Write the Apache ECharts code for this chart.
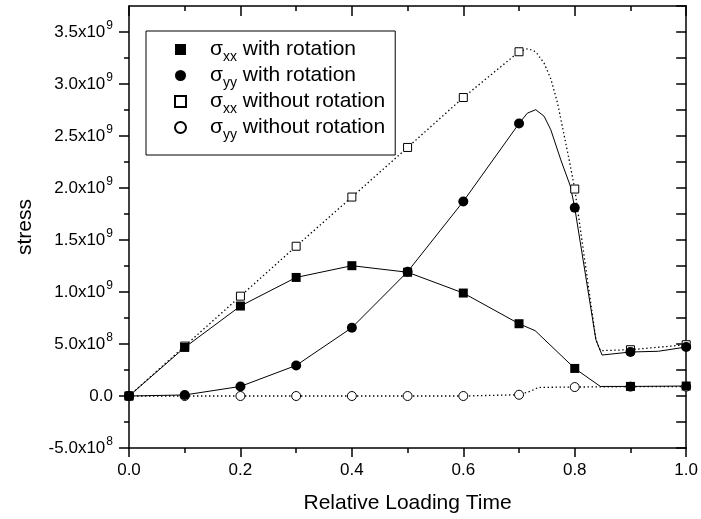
<!DOCTYPE html>
<html>
<head>
<meta charset="utf-8">
<script src="https://cdn.jsdelivr.net/npm/echarts@6/dist/echarts.min.js"></script>
<style>
html,body{margin:0;padding:0;background:#fff;}
#chart{width:701px;height:519px;}
</style>
</head>
<body>
<div id="chart"></div>
<script>
// ---- data ----
const loadTimes = [0, 0.1, 0.2, 0.3, 0.4, 0.5, 0.6, 0.7, 0.8, 0.9, 1.0];
const sxxWithRot = [0, 4.67e8, 8.65e8, 1.14e9, 1.253e9, 1.19e9, 0.99e9, 0.695e9, 0.265e9, 0.092e9, 0.096e9];
const syyWithRot = [0, 1.0e7, 9.2e7, 2.94e8, 6.57e8, 1.195e9, 1.871e9, 2.62e9, 1.81e9, 4.23e8, 4.71e8];
const sxxNoRot   = [0, 4.8e8, 9.6e8, 1.44e9, 1.913e9, 2.39e9, 2.87e9, 3.31e9, 1.99e9, 4.45e8, 4.93e8];
const syyNoRot   = [0, 0, 0, 0, 0, 0, 0, 1.2e7, 8.6e7, 9.0e7, 9.0e7];

// curve traces
const sxxWithRotCurveX = [0, 0.1, 0.2, 0.3, 0.4, 0.5, 0.6, 0.7, 0.729, 0.8, 0.846, 0.9, 1.0];
const sxxWithRotCurveY = [0, 4.67e8, 8.65e8, 1.14e9, 1.253e9, 1.19e9, 0.99e9, 0.695e9, 0.628e9, 0.265e9, 0.092e9, 0.092e9, 0.096e9];
const syyWithRotCurveX = [0, 0.1, 0.2, 0.3, 0.4, 0.5, 0.6, 0.7, 0.715, 0.73, 0.745, 0.757, 0.775, 0.792, 0.8, 0.838, 0.849, 0.9, 0.95, 1.0];
const syyWithRotCurveY = [0, 1.0e7, 9.2e7, 2.94e8, 6.57e8, 1.195e9, 1.871e9, 2.62e9, 2.72e9, 2.753e9, 2.69e9, 2.56e9, 2.27e9, 2.02e9, 1.81e9, 5.4e8, 3.94e8, 4.23e8, 4.3e8, 4.71e8];
const sxxNoRotCurveX = [0, 0.1, 0.2, 0.3, 0.4, 0.5, 0.6, 0.7, 0.716, 0.73, 0.745, 0.757, 0.769, 0.79, 0.8, 0.838, 0.846, 0.9, 1.0];
const sxxNoRotCurveY = [0, 4.8e8, 9.6e8, 1.44e9, 1.913e9, 2.39e9, 2.87e9, 3.31e9, 3.34e9, 3.31e9, 3.2e9, 3.05e9, 2.82e9, 2.27e9, 1.99e9, 5.4e8, 4.36e8, 4.45e8, 4.93e8];
const syyNoRotCurveX = [0, 0.1, 0.2, 0.3, 0.4, 0.5, 0.6, 0.7, 0.72, 0.735, 0.8, 0.9, 1.0];
const syyNoRotCurveY = [0, 0, 0, 0, 0, 0, 0, 1.2e7, 4.5e7, 8.3e7, 8.6e7, 9.0e7, 9.0e7];

// tick labels
const xTickLabels = ['0.0', '0.2', '0.4', '0.6', '0.8', '1.0'];
const yTickValues = [-5e8, 0, 5e8, 1e9, 1.5e9, 2e9, 2.5e9, 3e9, 3.5e9];
const yMinorValues = [-2.5e8, 2.5e8, 7.5e8, 1.25e9, 1.75e9, 2.25e9, 2.75e9, 3.25e9];
const yTickMantissa = ['-5.0x10', '0.0', '5.0x10', '1.0x10', '1.5x10', '2.0x10', '2.5x10', '3.0x10', '3.5x10'];
const yTickExponent = ['8', '', '8', '9', '9', '9', '9', '9', '9'];

// legend / series names
const seriesNames = ['σxx with rotation', 'σyy with rotation', 'σxx without rotation', 'σyy without rotation'];
const legendSub = ['xx', 'yy', 'xx', 'yy'];
const legendRest = [' with rotation', ' with rotation', ' without rotation', ' without rotation'];

// ---- build ----
const FONT = "'Liberation Sans', Arial, Helvetica, sans-serif";
function pairs(xs, ys) { return xs.map((x, i) => [x, ys[i]]); }

const chart = echarts.init(document.getElementById('chart'), null, {renderer: 'canvas'});

const solid = {color: '#000', width: 1, type: 'solid'};
const dotted = {color: '#000', width: 1.3, type: [1.4, 2.6]};

const option = {
  animation: false,
  backgroundColor: '#fff',
  textStyle: {fontFamily: FONT, color: '#000'},
  grid: {left: 129, right: 12, top: 6, bottom: 71, containLabel: false},
  legend: {
    data: seriesNames,
    orient: 'vertical',
    left: 146, top: 31,
    padding: [8, 10, 13, 28],
    itemWidth: 11, itemHeight: 11,
    itemGap: 1,
    borderColor: '#000', borderWidth: 1,
    backgroundColor: '#fff',
    selectedMode: false,
    formatter: function (name) {
      const i = seriesNames.indexOf(name);
      return '{s|σ}{sub|' + legendSub[i] + '}{t|' + legendRest[i] + '}';
    },
    textStyle: {
      padding: [0, 0, 0, 19],
      fontFamily: FONT,
      rich: {
        s: {fontSize: 21, lineHeight: 21, verticalAlign: 'top', fontFamily: FONT, color: '#000'},
        sub: {fontSize: 14, lineHeight: 14, padding: [11, 0, 0, 0], verticalAlign: 'top', fontFamily: FONT, color: '#000'},
        t: {fontSize: 21, lineHeight: 21, verticalAlign: 'top', fontFamily: FONT, color: '#000'}
      }
    }
  },
  xAxis: [
    {
      type: 'value', position: 'bottom', min: 0, max: 1, interval: 0.2,
      name: 'Relative Loading Time', nameLocation: 'middle', nameGap: 45,
      nameTextStyle: {fontSize: 21, fontFamily: FONT, color: '#000'},
      axisLine: {show: true, onZero: false, lineStyle: {color: '#000', width: 1.5}},
      axisTick: {show: true, inside: false, length: 9, lineStyle: {color: '#000', width: 1.5}},
      minorTick: {show: true, splitNumber: 2, length: 5, lineStyle: {color: '#000', width: 1.5}},
      splitLine: {show: false},
      axisLabel: {
        fontSize: 17, margin: 14, color: '#000', fontFamily: FONT,
        formatter: function (v) { return xTickLabels[Math.round(v / 0.2)]; }
      }
    },
    {
      type: 'value', position: 'top', min: 0, max: 1, interval: 0.2,
      axisLine: {show: true, onZero: false, lineStyle: {color: '#000', width: 1.5}},
      axisTick: {show: true, inside: true, length: 10, lineStyle: {color: '#000', width: 1.5}},
      minorTick: {show: true, splitNumber: 2, length: 5, lineStyle: {color: '#000', width: 1.5}},
      splitLine: {show: false},
      axisLabel: {show: false}
    }
  ],
  yAxis: [
    {
      type: 'value', position: 'left', min: -5e8, max: 3.75e9, interval: 2.5e8,
      name: 'stress', nameLocation: 'middle', nameGap: 93, nameRotate: 90,
      nameTextStyle: {fontSize: 21, fontFamily: FONT, color: '#000'},
      axisLine: {show: true, onZero: false, lineStyle: {color: '#000', width: 1.5}},
      axisTick: {show: true, inside: false, length: 10, customValues: yTickValues, lineStyle: {color: '#000', width: 1.5}},
      splitLine: {show: false},
      axisLabel: {
        margin: 16, color: '#000', fontFamily: FONT,
        customValues: yTickValues,
        formatter: function (v) {
          let idx = -1;
          for (let i = 0; i < yTickValues.length; i++) { if (Math.abs(yTickValues[i] - v) < 1) idx = i; }
          if (idx < 0) return '';
          if (!yTickExponent[idx]) return '{m|' + yTickMantissa[idx] + '}';
          return '{m|' + yTickMantissa[idx] + '}{e|' + yTickExponent[idx] + '}';
        },
        rich: {
          m: {fontSize: 17, lineHeight: 24, verticalAlign: 'middle', fontFamily: FONT, color: '#000'},
          e: {fontSize: 12, lineHeight: 12, padding: [0, 0, 12, 1], verticalAlign: 'top', fontFamily: FONT, color: '#000'}
        }
      }
    },
    {
      type: 'value', position: 'left', min: -5e8, max: 3.75e9, interval: 2.5e8,
      axisLine: {show: false},
      axisTick: {show: true, inside: false, length: 5, customValues: yMinorValues, lineStyle: {color: '#000', width: 1.5}},
      splitLine: {show: false},
      axisLabel: {show: false}
    },
    {
      type: 'value', position: 'right', min: -5e8, max: 3.75e9, interval: 2.5e8,
      axisLine: {show: true, onZero: false, lineStyle: {color: '#000', width: 1.5}},
      axisTick: {show: true, inside: true, length: 10, lineStyle: {color: '#000', width: 1.5}},
      splitLine: {show: false},
      axisLabel: {show: false}
    }
  ],
  series: [
    {name: 'c1', type: 'line', data: pairs(sxxWithRotCurveX, sxxWithRotCurveY), showSymbol: false, symbol: 'none', lineStyle: solid, z: 2, silent: true},
    {name: 'c2', type: 'line', data: pairs(syyWithRotCurveX, syyWithRotCurveY), showSymbol: false, symbol: 'none', lineStyle: solid, z: 2, silent: true},
    {name: 'c3', type: 'line', data: pairs(sxxNoRotCurveX, sxxNoRotCurveY), showSymbol: false, symbol: 'none', lineStyle: dotted, z: 2, silent: true},
    {name: 'c4', type: 'line', data: pairs(syyNoRotCurveX, syyNoRotCurveY), showSymbol: false, symbol: 'none', lineStyle: dotted, z: 2, silent: true},
    {name: seriesNames[2], type: 'scatter', data: pairs(loadTimes, sxxNoRot), symbol: 'rect', symbolSize: 8,
      itemStyle: {color: '#fff', borderColor: '#000', borderWidth: 1, opacity: 1}, z: 3},
    {name: seriesNames[3], type: 'scatter', data: pairs(loadTimes, syyNoRot), symbol: 'circle', symbolSize: 9,
      itemStyle: {color: '#fff', borderColor: '#000', borderWidth: 1, opacity: 1}, z: 3},
    {name: seriesNames[0], type: 'scatter', data: pairs(loadTimes, sxxWithRot), symbol: 'rect', symbolSize: 9,
      itemStyle: {color: '#000', opacity: 1}, z: 4},
    {name: seriesNames[1], type: 'scatter', data: pairs(loadTimes, syyWithRot), symbol: 'circle', symbolSize: 10,
      itemStyle: {color: '#000', opacity: 1}, z: 4}
  ]
};
chart.setOption(option);
</script>
</body>
</html>
